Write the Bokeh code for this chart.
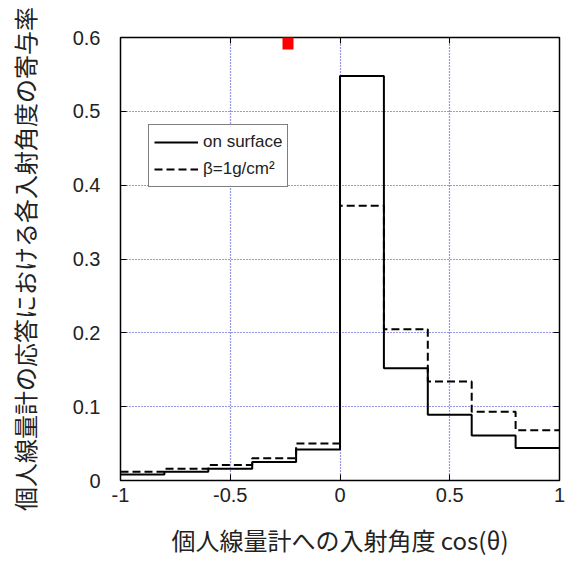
import numpy as np
from bokeh.plotting import figure
from bokeh.models import Range1d, LinearAxis, Legend, LegendItem, BoxAnnotation, FixedTicker
from bokeh.embed import file_html
from bokeh.resources import INLINE

edges = [-1.0, -0.8, -0.6, -0.4, -0.2, 0.0, 0.2, 0.4, 0.6, 0.8, 1.0]
on_surface = [0.008, 0.012, 0.016, 0.025, 0.042, 0.548, 0.152, 0.089, 0.061, 0.044]
beta_1g = [0.012, 0.016, 0.021, 0.030, 0.050, 0.372, 0.205, 0.134, 0.093, 0.068]
x_ticks = [-1, -0.5, 0, 0.5, 1]
y_ticks = [0, 0.1, 0.2, 0.3, 0.4, 0.5, 0.6]

p = figure(width=566, height=563, output_backend="svg", toolbar_location=None,
           x_range=Range1d(-1, 1), y_range=Range1d(0, 0.6),
           min_border_left=120, min_border_right=7, min_border_top=37, min_border_bottom=83)

p.outline_line_color = "black"
p.outline_line_width = 1.5
p.background_fill_color = "white"
p.border_fill_color = "white"

def steps(e, v):
    xs = np.repeat(np.array(e), 2)[1:-1]
    ys = np.repeat(np.array(v), 2)
    return xs, ys

xs1, ys1 = steps(edges, on_surface)
xs2, ys2 = steps(edges, beta_1g)
r2 = p.line(xs2, ys2, line_color="black", line_width=2, line_dash="8 4")
r1 = p.line(xs1, ys1, line_color="black", line_width=2)

tick_font = "Liberation Sans"
cjk_font = "Noto Sans CJK JP"
for ax in (p.xaxis[0], p.yaxis[0]):
    ax.major_label_text_font = tick_font
    ax.major_label_text_font_size = "20px"
    ax.major_label_text_color = "#222222"
    ax.major_tick_in = 6
    ax.major_tick_out = 0
    ax.minor_tick_in = 0
    ax.minor_tick_out = 0
    ax.axis_line_color = None
    ax.major_tick_line_color = "black"
    ax.axis_label_text_font = cjk_font
    ax.axis_label_text_font_size = "24px"
    ax.axis_label_text_font_style = "normal"
    ax.axis_label_text_color = "#222222"

p.xaxis[0].ticker = FixedTicker(ticks=x_ticks)
p.yaxis[0].ticker = FixedTicker(ticks=y_ticks)
p.xaxis[0].major_label_overrides = {-1: "-1", -0.5: "-0.5", 0: "0", 0.5: "0.5", 1: "1"}
p.yaxis[0].major_label_overrides = {0: "0"}
p.xaxis[0].major_label_standoff = 7
p.yaxis[0].major_label_standoff = 20
p.xaxis[0].axis_label = "個人線量計への入射角度 cos(θ)"
p.yaxis[0].axis_label = "個人線量計の応答における各入射角度の寄与率"
p.xaxis[0].axis_label_standoff = 17
p.yaxis[0].axis_label_standoff = 28

right_ax = LinearAxis(ticker=FixedTicker(ticks=y_ticks), major_label_text_font_size="1px",
                      major_label_text_color=None,
                      major_tick_in=6, major_tick_out=0, minor_tick_in=0, minor_tick_out=0,
                      axis_line_color=None, major_label_standoff=0)
top_ax = LinearAxis(ticker=FixedTicker(ticks=x_ticks), major_label_text_font_size="1px",
                    major_label_text_color=None,
                    major_tick_in=6, major_tick_out=0, minor_tick_in=0, minor_tick_out=0,
                    axis_line_color=None, major_label_standoff=0)
p.add_layout(right_ax, "right")
p.add_layout(top_ax, "above")

p.xgrid.ticker = FixedTicker(ticks=[-0.5, 0, 0.5])
p.ygrid.ticker = FixedTicker(ticks=[0.1, 0.2, 0.3, 0.4, 0.5])
for g in (p.xgrid[0], p.ygrid[0]):
    g.grid_line_color = "#3030cc"
    g.grid_line_dash = "1 2"
    g.grid_line_width = 1.2

legend = Legend(items=[LegendItem(label="on surface", renderers=[r1]),
                       LegendItem(label="β=1g/cm²", renderers=[r2])],
                location=(28, 293))
legend.label_text_font = tick_font
legend.label_text_font_size = "17px"
legend.label_text_color = "#222222"
legend.glyph_width = 44
legend.glyph_height = 24
legend.label_height = 24
legend.label_standoff = 5
legend.border_line_color = "black"
legend.border_line_width = 1.5
legend.padding = 5
legend.spacing = 3
legend.margin = 0
p.add_layout(legend, "center")

# red marker bar from the screenshot that reaches into the top of the plot
bar = BoxAnnotation(left=162, right=173, bottom=431, top=480,
                    left_units="screen", right_units="screen", top_units="screen", bottom_units="screen",
                    fill_color="red", fill_alpha=1.0, line_color=None, level="overlay")
p.add_layout(bar)

open("out.html", "w").write(file_html(p, INLINE))
